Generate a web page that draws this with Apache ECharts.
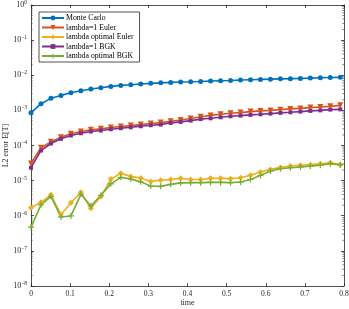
<!DOCTYPE html>
<html><head><meta charset="utf-8">
<script src="https://cdn.jsdelivr.net/npm/echarts@6/dist/echarts.min.js"></script>
<style>html,body{margin:0;padding:0;background:#fff}#c{width:349px;height:309px}</style>
</head><body><div id="c"></div>
<script>
const time = [0, 0.0255, 0.051, 0.0765, 0.102, 0.1275, 0.153, 0.1785, 0.204, 0.2295, 0.255, 0.2805, 0.306, 0.3315, 0.357, 0.3825,
  0.408, 0.4335, 0.459, 0.4845, 0.51, 0.5355, 0.561, 0.5865, 0.612, 0.6375, 0.663, 0.6885, 0.714, 0.7395, 0.765, 0.7905];
const monteCarlo = [8.5e-4, 1.55e-3, 2.2e-3, 2.67e-3, 3.19e-3, 3.63e-3, 4.06e-3, 4.42e-3, 4.81e-3, 5.14e-3, 5.38e-3, 5.65e-3, 5.88e-3, 6.08e-3, 6.25e-3, 6.45e-3,
  6.55e-3, 6.67e-3, 6.84e-3, 6.98e-3, 7.12e-3, 7.31e-3, 7.45e-3, 7.6e-3, 7.75e-3, 7.9e-3, 8.0e-3, 8.12e-3, 8.3e-3, 8.45e-3, 8.6e-3, 8.7e-3];
const lambda1Euler = [3.08e-5, 8.6e-5, 1.27e-4, 1.72e-4, 2.15e-4, 2.5e-4, 2.79e-4, 2.98e-4, 3.24e-4, 3.46e-4, 3.69e-4, 3.94e-4, 4.21e-4, 4.49e-4, 4.9e-4, 5.3e-4,
  5.9e-4, 6.6e-4, 7.2e-4, 7.73e-4, 8.25e-4, 8.63e-4, 9.22e-4, 9.65e-4, 1.0e-3, 1.05e-3, 1.1e-3, 1.14e-3, 1.2e-3, 1.25e-3, 1.3e-3, 1.39e-3];
const lambdaOptEuler = [1.69e-6, 2.42e-6, 3.94e-6, 1.07e-6, 2.34e-6, 4.64e-6, 1.63e-6, 3.51e-6, 1.11e-5, 1.61e-5, 1.32e-5, 1.18e-5, 9.5e-6, 1.03e-5, 1.08e-5, 1.16e-5,
  1.08e-5, 1.08e-5, 1.16e-5, 1.16e-5, 1.14e-5, 1.21e-5, 1.43e-5, 1.77e-5, 2.09e-5, 2.38e-5, 2.62e-5, 2.74e-5, 2.85e-5, 3.03e-5, 3.23e-5, 2.89e-5];
const lambda1BGK = [2.33e-5, 7.2e-5, 1.14e-4, 1.55e-4, 1.92e-4, 2.23e-4, 2.5e-4, 2.67e-4, 2.9e-4, 3.1e-4, 3.3e-4, 3.53e-4, 3.77e-4, 3.94e-4, 4.4e-4, 4.7e-4,
  5.12e-4, 5.65e-4, 5.94e-4, 6.35e-4, 6.78e-4, 7.1e-4, 7.43e-4, 7.73e-4, 8.09e-4, 8.47e-4, 8.81e-4, 9.22e-4, 9.65e-4, 1.0e-3, 1.05e-3, 1.07e-3];
const lambdaOptBGK = [4.72e-7, 2.05e-6, 3.57e-6, 9.25e-7, 9.87e-7, 4.07e-6, 1.9e-6, 3.82e-6, 8.09e-6, 1.24e-5, 1.11e-5, 9.22e-6, 7.0e-6, 6.87e-6, 7.83e-6, 8.64e-6,
  8.75e-6, 8.75e-6, 8.91e-6, 8.91e-6, 8.75e-6, 9.1e-6, 1.08e-5, 1.41e-5, 1.87e-5, 2.18e-5, 2.33e-5, 2.45e-5, 2.59e-5, 2.76e-5, 3.03e-5, 2.8e-5];
const seriesNames = ['Monte Carlo', 'lambda=1 Euler', 'lambda optimal Euler', 'lambda=1 BGK', 'lambda optimal BGK'];
const xTickLabels = ['0', '0.1', '0.2', '0.3', '0.4', '0.5', '0.6', '0.7', '0.8'];
const yTickExponents = [0, -1, -2, -3, -4, -5, -6, -7, -8];
const xAxisTitle = 'time';
const yAxisTitle = 'L2 error E[T]';

const colors = ['#0072BD', '#D95319', '#EDB120', '#7E2F8E', '#77AC30'];
const FONT = 'Liberation Serif';
const AX = '#262626';

// minor tick positions for the log axis (2..9 x 10^k)
const minorTicks = [];
for (let e = -8; e < 0; e++) for (let m = 2; m <= 9; m++) minorTicks.push([0, m * Math.pow(10, e)]);

const plus = 'path://M4,0H6V4H10V6H6V10H4V6H0V4H4Z';
function mk(name, data, color, symbol, size, rot) {
  return {
    name, type: 'line', data: time.map((t, i) => [t, data[i]]),
    xAxisIndex: 0, yAxisIndex: 0,
    symbol, symbolSize: size, symbolRotate: rot || 0, showAllSymbol: true,
    lineStyle: { color, width: 1.6 }, itemStyle: { color, borderWidth: 0 },
    emphasis: { disabled: true }, animation: false
  };
}
const yLabelFmt = v => {
  const e = Math.round(Math.log10(v));
  if (yTickExponents.indexOf(e) < 0) return '';
  return '{b|10}{s|' + (e === 0 ? '0' : '\u2212' + (-e)) + '}';
};
const rich = {
  b: { fontFamily: FONT, fontSize: 8, color: AX },
  s: { fontFamily: FONT, fontSize: 5.5, color: AX, padding: [0, 0, 5, 0] }
};
const chart = echarts.init(document.getElementById('c'), null, { renderer: 'canvas' });
chart.setOption({
  animation: false,
  backgroundColor: '#fff',
  grid: { left: 31, right: 5, top: 5, bottom: 23, containLabel: false, outerBoundsMode: 'none' },
  legend: {
    data: seriesNames, orient: 'vertical', left: 39, top: 12,
    itemWidth: 22, itemHeight: 6, itemGap: 1.5,
    padding: [2, 6, 2, 2], backgroundColor: '#fff', borderColor: AX, borderWidth: 0.8, borderRadius: 0,
    textStyle: { fontFamily: FONT, fontSize: 7.8, color: '#000', padding: [0, 0, 0, -3] },
    selectedMode: false
  },
  xAxis: [{
    type: 'value', min: 0, max: 0.8, interval: 0.1, position: 'bottom',
    name: xAxisTitle, nameLocation: 'middle', nameGap: 13, nameMoveOverlap: false,
    nameTextStyle: { fontFamily: FONT, fontSize: 8, color: AX },
    axisLine: { show: true, onZero: false, lineStyle: { color: AX, width: 0.8 } },
    axisTick: { show: true, inside: true, length: 3, lineStyle: { color: AX, width: 0.8 } },
    axisLabel: { fontFamily: FONT, fontSize: 7.5, color: AX, margin: 4,
      formatter: v => xTickLabels[Math.round(v * 10)] },
    splitLine: { show: false }
  }, {
    type: 'value', min: 0, max: 0.8, interval: 0.1, position: 'top',
    axisLine: { show: true, onZero: false, lineStyle: { color: AX, width: 0.8 } },
    axisTick: { show: true, inside: true, length: 3, lineStyle: { color: AX, width: 0.8 } },
    axisLabel: { show: false }, splitLine: { show: false }
  }],
  yAxis: [{
    type: 'log', logBase: 10, min: 1e-8, max: 1, position: 'left',
    name: yAxisTitle, nameLocation: 'middle', nameGap: 21, nameMoveOverlap: false,
    nameTextStyle: { fontFamily: FONT, fontSize: 8, color: AX },
    axisLine: { show: true, onZero: false, lineStyle: { color: AX, width: 0.8 } },
    axisTick: { show: true, inside: true, length: 3, lineStyle: { color: AX, width: 0.8 } },
    axisLabel: { margin: 4, formatter: yLabelFmt, rich },
    splitLine: { show: false }, minorTick: { show: false }
  }, {
    type: 'log', logBase: 10, min: 1e-8, max: 1, position: 'right',
    axisLine: { show: true, onZero: false, lineStyle: { color: AX, width: 0.8 } },
    axisTick: { show: true, inside: true, length: 3, lineStyle: { color: AX, width: 0.8 } },
    axisLabel: { show: false }, splitLine: { show: false }
  }],
  series: [
    mk(seriesNames[0], monteCarlo, colors[0], 'circle', 5),
    mk(seriesNames[1], lambda1Euler, colors[1], 'triangle', 6, 180),
    mk(seriesNames[2], lambdaOptEuler, colors[2], 'diamond', 6),
    mk(seriesNames[3], lambda1BGK, colors[3], 'rect', 4),
    mk(seriesNames[4], lambdaOptBGK, colors[4], plus, 6),
    {
      type: 'custom', data: minorTicks, xAxisIndex: 0, yAxisIndex: 0, silent: true, z: 1,
      encode: { x: 0, y: 1 },
      renderItem: (params, api) => {
        const v = api.value(1);
        const a = api.coord([0, v]);
        const b = api.coord([0.8, v]);
        return { type: 'group', children: [
          { type: 'line', shape: { x1: a[0], y1: a[1], x2: a[0] + 1.6, y2: a[1] }, style: { stroke: AX, lineWidth: 0.6 } },
          { type: 'line', shape: { x1: b[0], y1: b[1], x2: b[0] - 1.6, y2: b[1] }, style: { stroke: AX, lineWidth: 0.6 } }
        ] };
      }
    }
  ]
});
</script></body></html>
